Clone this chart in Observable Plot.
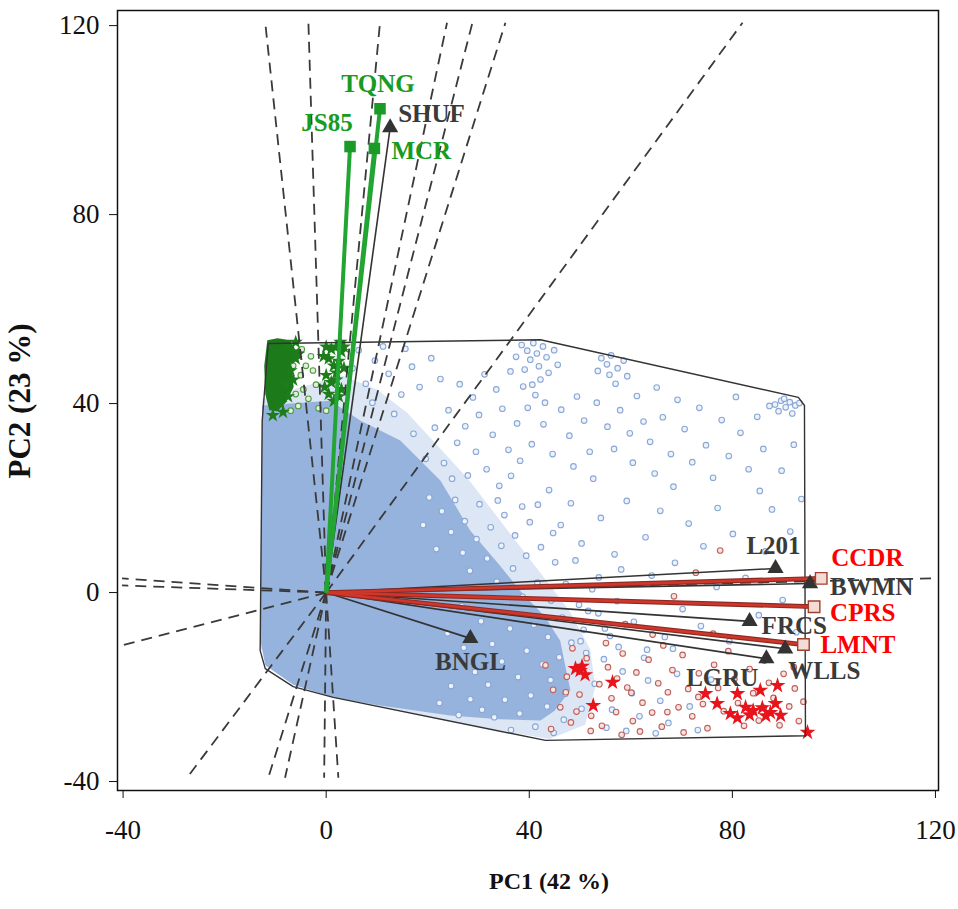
<!DOCTYPE html>
<html><head><meta charset="utf-8">
<script src="https://cdn.jsdelivr.net/npm/d3@7"></script>
<script src="https://cdn.jsdelivr.net/npm/@observablehq/plot@0.6"></script>
<style>body{margin:0;background:#fff}</style>
</head><body><div id="chart"></div>
<script>
// ---------- data ----------
const axisTicks = [-40, 0, 40, 80, 120];
const xTitle = "PC1 (42 %)";
const yTitle = "PC2 (23 %)";

const greenNames = ["TQNG", "JS85", "MCR"];
const greenX = [10.6, 4.7, 9.5];
const greenY = [102.4, 94.4, 94.0];

const blackNames = ["SHUF", "L201", "BWMN", "FRCS", "WLLS", "LGRU", "BNGL"];
const blackX = [12.6, 88.5, 95.3, 83.4, 90.4, 86.7, 28.4];
const blackY = [98.4, 5.1, 1.9, -6.1, -11.9, -14.0, -9.7];

const redNames = ["CCDR", "CPRS", "LMNT"];
const redX = [97.5, 96.1, 94.0];
const redY = [3.0, -3.0, -11.0];

// convex hull of the observations
const hull = [[-11.4,52.7],[42.2,53.5],[93.0,41.3],[94.2,39.6],[94.4,-30.3],[43.2,-31.3],[1.4,-22.2],[-6.5,-19.9],[-12.0,-16.1],[-13.0,-12.3],[-12.6,36.4],[-11.4,52.7]];

// dashed rays from the origin (end points)
const rays = [[-12.0,120.6],[-3.5,120.6],[10.6,120.6],[23.8,120.6],[28.8,120.6],[35.3,120.6],[82.0,120.6],
  [-27.4,-39.2],[-11.4,-39.2],[-8.1,-39.2],[-0.4,-39.2],[2.4,-39.2],
  [-40.2,3.0],[-40.2,1.5],[-40.2,-11.2],[119.5,3.0]];

// areas where the blue observations overlap into a solid cloud
const blueCore = [[-12.6,39.6],[0.8,40.6],[6.7,36.4],[14.6,32.2],[22.5,23.7],[28.4,13.1],[34,6],[38.2,0.4],[43,-5],[46.1,-10.2],[47,-15],[48.1,-20.7],[45,-25],[42.2,-27.1],[34,-26.8],[24.4,-26.0],[10.6,-23.9],[1.4,-22.2],[-6.5,-19.5],[-12.0,-15.4],[-13.0,-9.9]];
const blueHalo = [[-12.6,41],[3,46],[10,43],[16,38],[22,31],[28,24],[33,17],[38,10],[43,3],[48,-4],[52,-12],[53,-20],[51,-28],[44,-31],[25,-27.5],[1.4,-22.2],[-13,-12]];

const bluePts = [[38.5,52.4],[39.6,51.2],[40.8,52.8],[41.5,50.6],[42.7,52.1],[43.4,49.8],[40.2,49.3],[41.9,47.9],[39.1,47.2],[43.8,46.5],[42.2,45.1],[40.6,44.0],[44.9,51.3],[45.6,48.2],[37.4,49.9],[36.3,46.8],[38.8,43.6],[41.2,41.8],[43.1,40.2],[39.7,39.1],
[54.2,49.6],[55.3,48.3],[56.1,50.2],[57.4,47.5],[55.8,46.1],[58.6,49.1],[53.5,46.9],[59.3,45.8],[57.0,44.2],
[88.4,39.8],[89.6,40.6],[90.5,39.2],[91.3,40.3],[92.4,39.6],[93.2,40.1],[89.1,38.4],[91.8,37.9],[87.3,39.5],[90.2,41.0],
[26.3,44.1],[28.9,41.3],[31.2,46.2],[33.5,43.0],[30.1,37.6],[27.4,35.2],[34.7,38.9],[32.8,33.4],[35.9,30.2],[37.6,35.8],[29.5,29.8],[25.8,31.7],[24.1,38.6],[23.2,27.4],[27.9,24.8],[31.6,26.1],[34.1,22.6],[38.2,27.9],[40.5,31.4],[42.8,35.6],[44.6,29.3],[46.3,38.7],[47.9,33.2],[49.4,41.5],[50.8,36.4],[48.7,26.7],[51.9,29.8],[53.3,40.2],[52.6,24.1],[55.4,35.1],[57.9,38.6],[56.7,30.4],[59.8,33.7],[61.2,41.6],[62.5,36.2],[60.4,27.5],[63.8,31.9],[65.1,43.4],[66.3,37.1],[64.7,25.2],[67.9,29.3],[69.2,40.8],[70.6,34.6],[68.4,22.4],[72.1,27.6],[73.5,39.1],[74.8,31.2],[76.2,24.3],[77.9,36.5],[79.3,28.9],[80.7,41.4],[81.6,33.8],[83.2,26.1],[84.9,37.2],[86.1,30.4],[85.4,21.5],[87.8,17.6],[89.7,25.8],[92.1,31.3],[93.6,19.8],[77.1,17.9],[71.4,14.6],[65.8,17.3],[59.2,19.4],[54.1,15.8],[48.2,18.9],[43.9,21.7],[38.6,18.2],[44.7,12.6],[50.3,10.4],[56.8,8.1],[62.9,11.7],[68.7,6.3],[74.3,9.8],[80.1,12.4],[86.5,8.7],[91.4,12.9],[82.6,3.1],[76.9,1.2],[64.1,3.6],[57.3,-1.8],[70.2,-3.5],
[60.6,-6.2],[66.7,-9.4],[73.8,-7.1],[79.4,-10.3],[85.2,-4.8],[89.9,-1.6],[92.6,-8.4],[63.2,-12.1],[58.1,4.9],
[20.3,20.1],[22.8,17.2],[25.4,19.6],[19.1,14.3],[24.6,12.8],[27.3,15.1],[30.2,18.7],[21.7,9.2],[26.9,8.4],[29.6,11.3],[32.4,13.8],[35.1,16.4],[28.3,4.6],[31.7,7.2],[34.5,9.9],[37.2,12.1],[40.1,14.9],[33.6,2.3],[36.8,5.1],[39.4,7.8],[42.3,9.6],[45.1,6.4],[38.7,-0.9],[41.6,2.1],[44.3,-1.7],[47.2,1.8],[49.8,-2.6],[52.4,0.7],[46.5,-5.3],[50.7,-7.9],[53.6,-4.4],[55.9,-9.2],[48.3,-10.6],[51.2,-12.8],[54.7,-14.1],[57.6,-11.5],[45.9,-13.7],[49.6,-16.2],[52.9,-19.3],[47.1,-21.4],[44.2,-18.5],[50.3,-24.6],[46.8,-26.9],[43.5,-24.1],[41.2,-28.4],[44.8,-29.7],[40.3,-21.8],[38.1,-25.6],[36.4,-29.1],[42.6,-15.2],[39.5,-12.3],[37.8,-17.9],[35.2,-22.7],[33.1,-26.4],[30.7,-24.8],[34.6,-14.6],[31.9,-19.5],[28.4,-22.6],[26.1,-25.9],[29.3,-16.8],[32.7,-10.9],[36.2,-7.6],[40.9,-6.8],[43.7,-9.4],[30.5,-6.1],[27.1,-11.7],[24.6,-19.8],[22.3,-23.4],[26.7,-2.9],[23.9,-8.6],[58.4,-16.7],[60.2,-21.3],[56.3,-24.8],[61.7,-26.2],[59.1,-29.3],[63.4,-18.6],[55.2,-28.6],[62.6,-13.8],[65.8,-22.9],[67.4,-27.6],[69.1,-17.2],[64.9,-29.8],[71.6,-24.1],[73.2,-29.1],[75.8,-18.4],[68.3,-11.9],
[5.2,47.5],[7.8,44.2],[9.6,49.1],[12.3,46.3],[14.8,41.9],[16.9,47.8],[18.4,43.5],[20.7,49.6],[22.5,45.2],[11.2,52.1],[6.4,51.3],[15.6,51.6],
[24.8,24.1],[19.6,28.3],[17.2,33.6],[13.4,37.8],[21.4,34.9],[9.1,40.2],[33.8,19.5],[36.4,24.7],[41.7,18.6],[46.2,14.3],[49.1,6.8],[53.7,3.2],[51.6,-3.9],[54.9,-7.6],[50.1,-10.3]];

const redPts = [[43.2,-15.4],[44.7,-20.6],[46.1,-24.3],[47.4,-17.8],[48.2,-27.5],[49.9,-21.6],[51.3,-13.9],[52.2,-26.1],[53.8,-19.4],[54.3,-28.2],[55.5,-15.8],[56.2,-22.4],[57.1,-25.3],[58.4,-12.9],[59.3,-20.1],[60.4,-27.2],[61.1,-16.9],[62.3,-23.3],[63.5,-14.2],[64.2,-25.4],[65.4,-19.2],[66.1,-28.4],[67.3,-21.1],[68.2,-16.4],[69.4,-24.3],[70.2,-13.2],[71.3,-20.4],[72.1,-26.2],[73.4,-17.1],[74.2,-23.6],[75.1,-28.7],[76.4,-15.3],[77.2,-20.2],[78.3,-25.1],[79.2,-12.4],[80.4,-18.3],[81.1,-23.4],[82.3,-28.2],[83.4,-16.2],[84.1,-21.3],[85.2,-27.1],[86.3,-14.4],[87.2,-19.1],[88.1,-22.3],[89.3,-28.1],[90.1,-17.2],[91.2,-24.1],[92.3,-20.3],[93.1,-27.2],[94.0,-23.1],[48.5,-11.8],[55.1,-10.7],[66.4,-11.2],[44.3,-28.9],[58.2,-30.1],[70.4,-29.6],[52.1,-29.3],[64.3,-8.9],[76.2,-8.7],[61.8,-29.4],[57.3,-18.2],[60.1,-21.2],[47.2,-21.1],[49.3,-25.2],[73.3,-22.1],[67.2,-25.3],[86.2,-24.4],[92.1,-15.8],[77.6,8.9],[68.5,-0.8],[58.9,-6.7],[72.8,4.2]];

const redStars = [[50.0,-16.5],[49.1,-16.1],[51.0,-17.4],[50.4,-15.6],[56.4,-19.0],[52.6,-23.9],[74.7,-21.4],[77.0,-23.5],[81.0,-21.4],[79.6,-25.6],[81.0,-26.5],[85.5,-20.7],[88.9,-19.7],[84.1,-25.0],[87.5,-25.4],[89.5,-26.0],[88.5,-23.5],[85.9,-24.4],[86.6,-26.1],[83.4,-25.9],[82.6,-24.3],[94.8,-29.6]];

const greenCore = [[-11.6,53.4],[-9.6,53.8],[-7.0,53.4],[-6.2,50.5],[-6.8,47.0],[-6.4,43.5],[-7.8,40.5],[-9.6,38.4],[-11.2,38.6],[-12.0,42.0],[-12.2,48.0]];
const greenStars = [[-7.5,52],[-6.5,51],[-6,49.5],[-7,47],[-6.5,45],[-8,44],[-7.5,41.5],[-9,40],[-6,53],[-5.5,50.5],[0,52],[1,51.5],[2,52],[3,51],[0.5,49.5],[1.5,48],[2.5,49],[3.5,47.5],[0,46],[1,44.5],[2,45],[3,43],[0.5,42],[1.5,40.5],[2.5,41.5],[-0.5,50],[3.5,52],[2,46.5],[-0.3,43.5],[2.8,53],[-10.5,37.5],[-8.5,38.2]];
const greenRings = [[-6.5,48],[-5,46],[-4.5,43],[-6,42],[-5.5,39.5],[-3.5,41],[-4,48],[-2,44],[-1.5,39],[-7,38.5],[-3,50],[0,38.5],[-4.8,51.5],[-2.6,47]];

// ---------- tables for the library ----------
const vec = (names, xs, ys, group) => names.map((n, i) => ({name: n, x: xs[i], y: ys[i], group}));
const greenV = vec(greenNames, greenX, greenY, "g");
const blackV = vec(blackNames, blackX, blackY, "k");
const redV = vec(redNames, redX, redY, "r");
const pts = a => a.map(([x, y]) => ({x, y}));

// label placement (pixels, relative to vector tip)
const labelPos = {
  TQNG:[-2,-25,"middle"], JS85:[-23,-24,"middle"], MCR:[17,3,"start"], SHUF:[8,-14,"start"],
  L201:[-2,-22,"middle"], BWMN:[20,3,"start"], FRCS:[12,5,"start"], WLLS:[3,22,"start"],
  LGRU:[-8,19,"end"], BNGL:[0,24,"middle"], CCDR:[10,-20,"start"], CPRS:[16,6,"start"], LMNT:[17,0,"start"]
};
const colors = {g: "#169c22", k: "#3a3a3a", r: "#ff0000"};
const allV = [...greenV, ...blackV, ...redV].map(d => ({...d, dx: labelPos[d.name][0], dy: labelPos[d.name][1], anchor: labelPos[d.name][2]}));

const labelMark = (a) => {
  const data = allV.filter(d => d.anchor === a);
  return Plot.text(data, {
    x: "x", y: "y", text: "name", textAnchor: a, fontWeight: "bold", fontSize: 25,
    fill: d => colors[d.group],
    render(index, scales, values, dimensions, context, next) {
      const g = next(index, scales, values, dimensions, context);
      d3.select(g).selectAll("text").each(function(_, j) {
        const d = data[index[j]];
        this.setAttribute("transform", (this.getAttribute("transform") || "") + ` translate(${d.dx},${d.dy})`);
      });
      return g;
    }
  });
};

// axis title placed at a fixed pixel position
const titleMark = (label, px, py, rot, size) => Plot.text([label], {
  frameAnchor: "middle", text: d => d, fontWeight: "bold", fontSize: size,
  render(index, scales, values, dimensions, context, next) {
    const g = next(index, scales, values, dimensions, context);
    d3.select(g).attr("transform", null).selectAll("text")
      .attr("x", null).attr("y", null)
      .attr("transform", `translate(${px},${py}) rotate(${rot})`);
    return g;
  }
});

const rayLinks = rays.map(([x, y]) => ({x1: 0, y1: 0, x2: x, y2: y}));
const links = a => a.map(d => ({x1: 0, y1: 0, x2: d.x, y2: d.y}));

const chart = Plot.plot({
  width: 958, height: 909,
  marginLeft: 117, marginRight: 20, marginTop: 10, marginBottom: 119,
  x: {domain: [-41.1, 120.6]},
  y: {domain: [-41.9, 123.2]},
  style: {fontFamily: "'Liberation Serif', 'Times New Roman', serif", fontSize: "24px", color: "#111", background: "#fff"},
  marks: [
    Plot.line(blueHalo, {x: d => d[0], y: d => d[1], fill: "#9ab6df", fillOpacity: 0.35, stroke: "none", curve: "linear-closed"}),
    Plot.line(blueCore, {x: d => d[0], y: d => d[1], fill: "#96b3dd", stroke: "none", curve: "linear-closed"}),
    Plot.dot(pts(bluePts), {x: "x", y: "y", r: 2.8, stroke: "#88a7d7", fill: "#eef3fb", strokeWidth: 1.1}),
    Plot.dot(pts(redPts), {x: "x", y: "y", r: 2.8, stroke: "#c0605a", fill: "#f6e4e2", strokeWidth: 1.1}),
    Plot.dot(pts(redStars), {x: "x", y: "y", r: 5, symbol: "star", fill: "#e8141c", stroke: "none"}),
    Plot.line(greenCore, {x: d => d[0], y: d => d[1], fill: "#1d7a1a", stroke: "none", curve: "linear-closed"}),
    Plot.dot(pts(greenRings), {x: "x", y: "y", r: 2.8, stroke: "#4f9b3e", fill: "#e4f0dc", strokeWidth: 1.1}),
    Plot.dot(pts(greenStars), {x: "x", y: "y", r: 4.5, symbol: "star", fill: "#1c7d1a", stroke: "none"}),
    Plot.line(hull, {x: d => d[0], y: d => d[1], stroke: "#333", strokeWidth: 1.4}),
    Plot.link(rayLinks, {x1: "x1", y1: "y1", x2: "x2", y2: "y2", stroke: "#3a3a3a", strokeWidth: 1.8, strokeDasharray: "11,7"}),
    Plot.link(links(blackV), {x1: "x1", y1: "y1", x2: "x2", y2: "y2", stroke: "#333", strokeWidth: 1.6}),
    Plot.link(links(redV), {x1: "x1", y1: "y1", x2: "x2", y2: "y2", stroke: "#8c2a22", strokeWidth: 4.8}),
    Plot.link(links(redV), {x1: "x1", y1: "y1", x2: "x2", y2: "y2", stroke: "#d0362a", strokeWidth: 2.6}),
    Plot.link(links(greenV), {x1: "x1", y1: "y1", x2: "x2", y2: "y2", stroke: "#22a532", strokeWidth: 4}),
    Plot.dot(blackV, {x: "x", y: "y", symbol: "triangle", r: 6, fill: "#333", stroke: "none"}),
    Plot.dot(redV, {x: "x", y: "y", symbol: "square", r: 6.5, fill: "#f4dcd6", stroke: "#a04030", strokeWidth: 1.4}),
    Plot.dot(greenV, {x: "x", y: "y", symbol: "square", r: 6.5, fill: "#1c9a28", stroke: "none"}),
    labelMark("start"), labelMark("middle"), labelMark("end"),
    Plot.frame({stroke: "#111", strokeWidth: 1.5}),
    Plot.axisX({ticks: axisTicks, tickSize: 8, tickPadding: 21, tickFormat: d => String(d), label: null, fontSize: 27}),
    Plot.axisY({ticks: axisTicks, tickSize: 8, tickPadding: 10, tickFormat: d => String(d), label: null, fontSize: 27}),
    titleMark(xTitle, 549, 889, 0, 24),
    titleMark(yTitle, 30, 401, -90, 31)
  ]
});
document.getElementById("chart").appendChild(chart);
</script></body></html>
